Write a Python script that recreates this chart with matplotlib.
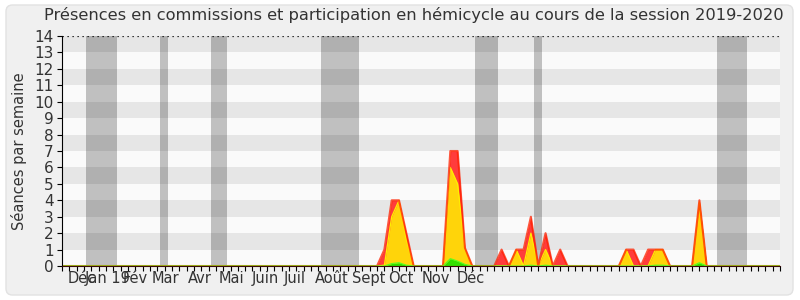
import matplotlib
matplotlib.use("Agg")
import matplotlib.pyplot as plt
from matplotlib.patches import FancyBboxPatch
import numpy as np

title = "Présences en commissions et participation en hémicycle au cours de la session 2019-2020"
ylabel = "Séances par semaine"

n_weeks = 98
weeks = np.arange(n_weeks + 1)

# Week values (index -> value), all others zero
red_pts = {44: 1, 45: 4, 46: 4, 47: 2, 53: 7, 54: 7, 55: 1.1, 60: 1, 62: 1, 63: 1,
           64: 3, 66: 2, 68: 1, 77: 1, 78: 1, 80: 1, 81: 1, 82: 1, 87: 4}
yellow_pts = {44: 0.05, 45: 3, 46: 4, 47: 1.6, 53: 6, 54: 5, 55: 1, 62: 1, 64: 2,
              66: 1, 77: 1, 81: 1, 82: 1, 87: 3.9}
green_pts = {45: 0.15, 46: 0.2, 47: 0.05, 53: 0.45, 54: 0.3, 55: 0.1, 64: 0.05,
             66: 0.05, 81: 0.05, 82: 0.05, 87: 0.2}

red = np.zeros(n_weeks + 1)
yellow = np.zeros(n_weeks + 1)
green = np.zeros(n_weeks + 1)
for k, v in red_pts.items():
    red[k] = v
for k, v in yellow_pts.items():
    yellow[k] = v
for k, v in green_pts.items():
    green[k] = v

vacations = [(3.28, 7.47), (13.37, 14.42), (20.34, 22.48), (35.35, 40.49),
             (56.37, 59.47), (64.42, 65.47), (89.4, 93.45)]

month_labels = ["Déc", "Jan 19", "Fév", "Mar", "Avr", "Mai", "Juin", "Juil",
                "Août", "Sept", "Oct", "Nov", "Déc"]
month_pos = [2.73, 6.28, 9.96, 14.13, 18.83, 23.13, 27.77, 31.80, 36.85, 41.9,
             46.27, 51.04, 55.82]

fig = plt.figure(figsize=(8, 3), dpi=100)
fig.patch.set_facecolor("white")
bg = FancyBboxPatch((6 / 800, 5 / 300), 787 / 800, 290 / 300,
                    boxstyle="round,pad=0,rounding_size=0.008",
                    transform=fig.transFigure, facecolor="#f0f0f0",
                    edgecolor="#e2e2e2", linewidth=1.0, zorder=-10,
                    mutation_aspect=800 / 300)
fig.patches.append(bg)

ax = fig.add_axes([62 / 800, 34 / 300, 718 / 800, 230 / 300])
ax.set_zorder(5)
ax.set_xlim(0, n_weeks)
ax.set_ylim(0, 14)
ax.set_facecolor("#fafafa")

for i in range(14):
    ax.axhspan(i, i + 1, color="#e6e6e6" if i % 2 == 1 else "#fafafa", lw=0, zorder=0)
for a, b in vacations:
    ax.axvspan(a, b, color="black", alpha=0.23, lw=0, zorder=1)

ax.fill_between(weeks, red, 0, color="#ff3c3c", lw=0, zorder=2)
ax.fill_between(weeks, yellow, 0, color="#ffd40a", lw=0, zorder=3)
ax.plot(weeks, yellow, color="#ffee00", lw=0.9, zorder=3.1)
ax.plot(weeks, red, color="#ff2000", lw=1.5, alpha=0.75, zorder=3.5)
ax.fill_between(weeks, green, 0, color="#33e000", lw=0, zorder=4)
ax.plot(weeks, green, color="#55ff22", lw=0.8, zorder=4.1)

ax.axhline(14, color="black", lw=0.9, ls=(0, (1, 3)), zorder=5)

for s in ["top", "right"]:
    ax.spines[s].set_visible(False)
ax.spines["left"].set_color("black")
ax.spines["bottom"].set_color("#3a0a0a")
ax.spines["left"].set_zorder(6)
ax.spines["bottom"].set_zorder(6)

ax.set_yticks(range(15))
ax.set_yticklabels([str(i) for i in range(15)])
ax.tick_params(axis="y", length=3.6, width=0.8, color="black", pad=2.5,
               labelsize=11, labelcolor="#333333")
ax.set_xticks(weeks)
ax.set_xticklabels([])
ax.tick_params(axis="x", which="major", length=3.8, width=0.8, color="black")
ax.set_xticks(month_pos, minor=True)
ax.set_xticklabels(month_labels, minor=True)
ax.tick_params(axis="x", which="minor", length=0, pad=3.5, labelsize=10.5,
               labelcolor="#333333")

ax.set_ylabel(ylabel, fontsize=10.5, color="#333333", labelpad=5)
fig.text(414 / 800, 1 - 15 / 300, title, ha="center", va="center", fontsize=11.7,
         color="#333333")

fig.savefig("out.png", dpi=100, facecolor=fig.get_facecolor())
